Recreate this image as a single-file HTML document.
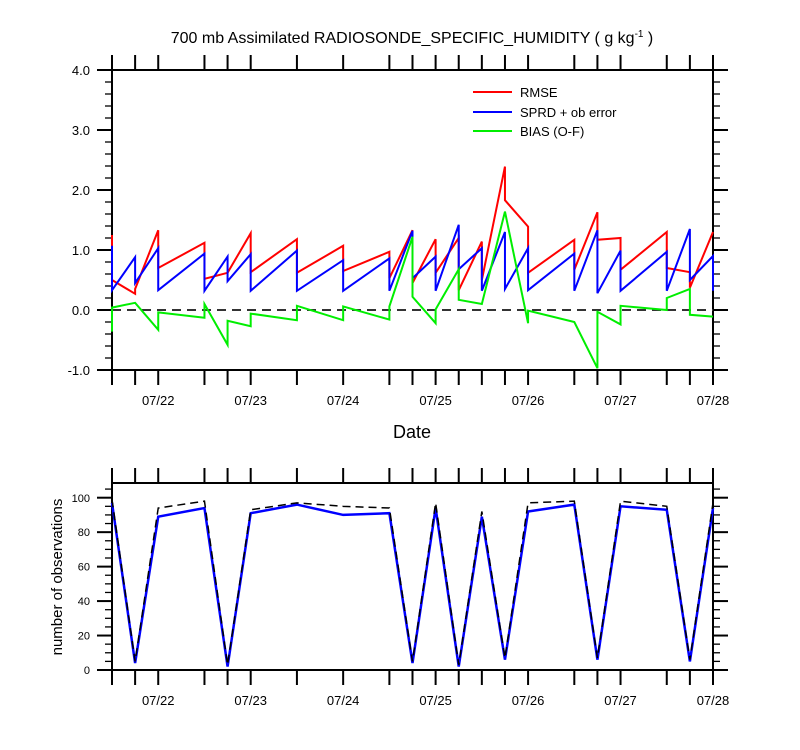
<!DOCTYPE html>
<html><head><meta charset="utf-8">
<style>
html,body{margin:0;padding:0;background:#fff;}
svg{display:block;font-family:"Liberation Sans",sans-serif;}
</style></head>
<body>
<svg id="chart" width="800" height="750" viewBox="0 0 800 750">
<text x="412" y="43" font-size="16" text-anchor="middle">700 mb Assimilated RADIOSONDE_SPECIFIC_HUMIDITY ( g kg<tspan dy="-6" font-size="10">-1</tspan><tspan dy="6"> )</tspan></text>
<text x="412" y="438" font-size="18" text-anchor="middle">Date</text>
<text transform="translate(62,577) rotate(-90)" font-size="15" text-anchor="middle">number of observations</text>
<g id="topPanel"></g>
<g id="botPanel"></g>
<g>
<line x1="473" y1="92" x2="512" y2="92" stroke="#f00" stroke-width="2"/>
<text x="520" y="97" font-size="13">RMSE</text>
<line x1="473" y1="112" x2="512" y2="112" stroke="#00f" stroke-width="2"/>
<text x="520" y="117" font-size="13">SPRD + ob error</text>
<line x1="473" y1="131" x2="512" y2="131" stroke="#0e0" stroke-width="2"/>
<text x="520" y="136" font-size="13">BIAS (O-F)</text>
</g>
</svg>
<script>
// hours since 07/21 12Z
const times = [0,6,12,24,30,36,48,60,72,78,84,90,96,102,108,120,126,132,144,150,156];
const rmseA = [1.25,0.27,1.33,1.12,0.62,1.28,1.18,1.07,0.97,1.33,1.18,1.2,1.14,2.39,1.39,1.17,1.63,1.2,1.3,0.63,1.3];
const rmseB = [0.5,0.35,0.7,0.52,0.62,0.63,0.62,0.65,0.53,0.45,0.62,0.33,0.5,1.83,0.62,0.67,1.17,0.67,0.7,0.37,1.3];
const sprdA = [1.07,0.88,1.03,0.94,0.89,0.93,0.99,0.83,0.86,1.32,0.89,1.42,1.03,1.3,1.03,0.94,1.33,0.99,0.97,1.35,0.9];
const sprdB = [0.33,0.45,0.33,0.32,0.48,0.32,0.32,0.32,0.32,0.53,0.32,0.68,0.32,0.35,0.33,0.32,0.28,0.32,0.32,0.5,0.32];
const biasA = [-0.36,0.12,-0.33,-0.13,-0.58,-0.27,-0.17,-0.17,-0.16,1.22,-0.22,0.68,0.1,1.64,-0.22,-0.2,-0.97,-0.24,0.0,0.35,-0.11];
const biasB = [0.04,0.12,-0.04,0.1,-0.18,-0.06,0.07,0.06,0.06,0.22,0.01,0.17,0.1,1.64,-0.01,-0.2,-0.03,0.07,0.2,-0.08,-0.11];
const obsUsed = [97,4,89,94,2,91,96,90,91,4,94,2,89,6,92,96,6,95,93,5,94];
const obsTotal = [99,5,94,98,3,93,97,95,94,5,97,3,92,7,97,98,7,98,95,6,97];
const dateLabels = ['07/22','07/23','07/24','07/25','07/26','07/27','07/28'];
const dateHours = [12,36,60,84,108,132,156];
const topTicks = ['-1.0','0.0','1.0','2.0','3.0','4.0'];
const botTicks = ['0','20','40','60','80','100'];

const NS='http://www.w3.org/2000/svg';
const X0=112,X1=713;
const xS=h=>X0+(X1-X0)*h/156;
const yT=v=>310-60*v;
const yB=v=>670-1.723*v;
function mk(tag,attrs,parent){const e=document.createElementNS(NS,tag);for(const k in attrs)e.setAttribute(k,attrs[k]);parent.appendChild(e);return e;}
const topG=document.getElementById('topPanel'), botG=document.getElementById('botPanel');

function frame(g,ya,yb,majors,minors,labels,yf,fs){
  const r=mk('rect',{x:X0,y:ya,width:X1-X0,height:yb-ya,fill:'none',stroke:'#000','stroke-width':2},g);
  
  
  times.forEach(t=>{
    const l1=mk('line',{x1:xS(t),x2:xS(t),y1:ya,y2:ya-15,stroke:'#000','stroke-width':2},g);
    
    
    const l2=mk('line',{x1:xS(t),x2:xS(t),y1:yb,y2:yb+15,stroke:'#000','stroke-width':2},g);
    
    
  });
  dateLabels.forEach((d,i)=>{
    const tx=mk('text',{x:xS(dateHours[i]),y:yb+35,'font-size':13,'text-anchor':'middle'},g);
    tx.textContent=d;
    
    
  });
  minors.forEach(v=>{
    [[X0,X0-7],[X1,X1+7]].forEach(p=>{
      const l=mk('line',{x1:p[0],x2:p[1],y1:yf(v),y2:yf(v),stroke:'#000','stroke-width':1.3},g);
      
      
    });
  });
  majors.forEach((v,i)=>{
    [[X0,X0-15],[X1,X1+15]].forEach(p=>{
      const l=mk('line',{x1:p[0],x2:p[1],y1:yf(v),y2:yf(v),stroke:'#000','stroke-width':2},g);
      
      
    });
    const tx=mk('text',{x:X0-22,y:yf(v)+fs*0.37,'font-size':fs,'text-anchor':'end'},g);
    tx.textContent=labels[i];
    
    
  });
}
function saw(g,A,B,yf,color,name){
  let d='';
  times.forEach((t,i)=>{d+=(i?'L':'M')+xS(t)+','+yf(A[i])+'L'+xS(t)+','+yf(B[i]);});
  const p=mk('path',{d:d,fill:'none',stroke:color,'stroke-width':2,'stroke-linejoin':'miter'},g);
  
  
}
function line(g,V,yf,color,name,dash,w){
  const d=times.map((t,i)=>(i?'L':'M')+xS(t)+','+yf(V[i])).join('');
  const p=mk('path',{d:d,fill:'none',stroke:color,'stroke-width':w},g);
  if(dash)p.setAttribute('stroke-dasharray',dash);
  
  
}
// top panel
const tMaj=topTicks.map(Number);
const tMin=[];for(let v=-1;v<=4.001;v+=0.2)tMin.push(+v.toFixed(1));
frame(topG,70,370,tMaj,tMin,topTicks,yT,13);
const zl=mk('line',{x1:X0,x2:X1,y1:yT(0),y2:yT(0),stroke:'#333','stroke-width':2,'stroke-dasharray':'9,6'},topG);


saw(topG,rmseA,rmseB,yT,'#f00','rmse-series');
saw(topG,sprdA,sprdB,yT,'#00f','sprd-series');
saw(topG,biasA,biasB,yT,'#0e0','bias-series');
// bottom panel
const bMaj=botTicks.map(Number);
const bMin=[];for(let v=0;v<=105;v+=5)bMin.push(v);
frame(botG,483,670,bMaj,bMin,botTicks,yB,11);
line(botG,obsUsed,yB,'#00f','obs-used-series',null,2.5);
line(botG,obsTotal,yB,'#000','obs-total-series','8,5',1.5);
</script>
</body></html>
